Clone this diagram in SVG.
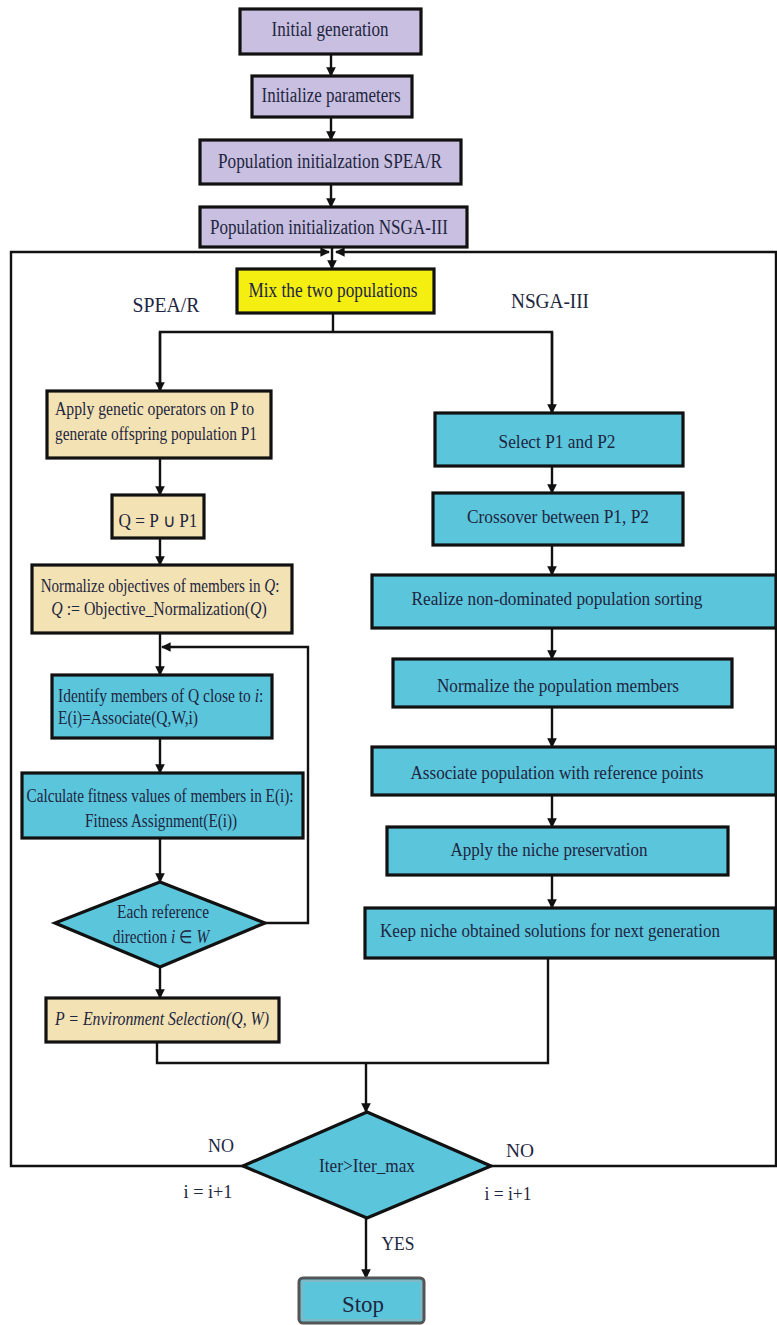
<svg xmlns="http://www.w3.org/2000/svg" width="777" height="1325" viewBox="0 0 777 1325">
<defs>
<marker id="ah" viewBox="0 0 10 10" refX="9" refY="5" markerWidth="4" markerHeight="4" orient="auto" markerUnits="strokeWidth">
<path d="M0,0 L10,5 L0,10 z" fill="#111"/>
</marker>
<style>
.b{stroke:#111;stroke-width:3.2}
.pu{fill:#c9bfe0}
.ye{fill:#f4ef10}
.ta{fill:#f3e2b3}
.cy{fill:#5bc5dc}
.c{fill:none;stroke:#111;stroke-width:2.4}
.a{marker-end:url(#ah)}
text{font-family:"Liberation Serif","Times New Roman",serif;fill:#1e2640;font-size:18px}
.m{text-anchor:middle}
.big{font-size:20px}
.it{font-style:italic}
</style>
</defs>
<rect width="777" height="1325" fill="#fff"/>
<g id="connectors">
<line class="c a" x1="331" y1="54" x2="331" y2="76"/>
<line class="c a" x1="331" y1="117" x2="331" y2="140"/>
<line class="c a" x1="331" y1="184" x2="331" y2="207"/>
<line class="c a" x1="332" y1="247" x2="332" y2="269"/>
<polyline class="c a" points="243,1166 11,1166 11,252 329,252"/>
<polyline class="c a" points="491,1166 776,1166 776,252 336,252"/>
<polyline class="c" points="160,391 160,332 552,332 552,413"/>
<line class="c" x1="333" y1="313" x2="333" y2="332"/>
<line class="c a" x1="160" y1="332" x2="160" y2="391"/>
<line class="c a" x1="552" y1="332" x2="552" y2="413"/>
<line class="c a" x1="160" y1="458" x2="160" y2="495"/>
<line class="c a" x1="160" y1="538" x2="160" y2="565"/>
<line class="c a" x1="160" y1="633" x2="160" y2="675"/>
<polyline class="c a" points="265,923 308,923 308,647 162,647"/>
<line class="c a" x1="160" y1="738" x2="160" y2="773"/>
<line class="c a" x1="160" y1="838" x2="160" y2="882"/>
<line class="c a" x1="160" y1="967" x2="160" y2="998"/>
<polyline class="c" points="157,1042 157,1063 548,1063 548,958"/>
<line class="c a" x1="366" y1="1063" x2="366" y2="1112"/>
<line class="c a" x1="366" y1="1218" x2="366" y2="1278"/>
<line class="c a" x1="552" y1="466" x2="552" y2="493"/>
<line class="c a" x1="552" y1="545" x2="552" y2="575"/>
<line class="c a" x1="552" y1="628" x2="552" y2="659"/>
<line class="c a" x1="552" y1="707" x2="552" y2="747"/>
<line class="c a" x1="552" y1="795" x2="552" y2="827"/>
<line class="c a" x1="552" y1="875" x2="552" y2="908"/>
</g>
<g id="n_init">
<rect class="b pu" x="240" y="9" width="181" height="45"/>
<text class="m big" x="330" y="36" textLength="117" lengthAdjust="spacingAndGlyphs">Initial generation</text>
</g>
<g id="n_params">
<rect class="b pu" x="252" y="76" width="160" height="41"/>
<text class="m big" x="331" y="102" textLength="139" lengthAdjust="spacingAndGlyphs">Initialize parameters</text>
</g>
<g id="n_spea_init">
<rect class="b pu" x="200" y="140" width="261" height="44"/>
<text class="m big" x="330" y="168" textLength="224" lengthAdjust="spacingAndGlyphs">Population initialzation SPEA/R</text>
</g>
<g id="n_nsga_init">
<rect class="b pu" x="200" y="207" width="267" height="40"/>
<text class="m big" x="329" y="234" textLength="238" lengthAdjust="spacingAndGlyphs">Population initialization NSGA-III</text>
</g>
<g id="n_mix">
<rect class="b ye" x="237" y="269" width="197" height="44"/>
<text class="m big" x="333" y="297" textLength="169" lengthAdjust="spacingAndGlyphs">Mix the two populations</text>
</g>
<g id="labels">
<text class="m big" x="166" y="312" textLength="67" lengthAdjust="spacingAndGlyphs">SPEA/R</text>
<text class="m big" x="550" y="308" textLength="78" lengthAdjust="spacingAndGlyphs">NSGA-III</text>
</g>
<g id="n_apply">
<rect class="b ta" x="47" y="391" width="224" height="67"/>
<text x="55" y="415" textLength="199" lengthAdjust="spacingAndGlyphs">Apply genetic operators on P to</text>
<text x="55" y="440" textLength="202" lengthAdjust="spacingAndGlyphs">generate offspring population P1</text>
</g>
<g id="n_q">
<rect class="b ta" x="112" y="495" width="92" height="43"/>
<text class="m" x="158" y="527" textLength="79" lengthAdjust="spacingAndGlyphs">Q = P ∪ P1</text>
</g>
<g id="n_norm">
<rect class="b ta" x="32" y="565" width="260" height="68"/>
<text class="m" transform="translate(160 592) scale(0.84 1)" x="0" y="0">Normalize objectives of members in <tspan class="it">Q</tspan>:</text>
<text class="m" transform="translate(159 615) scale(0.88 1)" x="0" y="0"><tspan class="it">Q</tspan> := Objective_Normalization(<tspan class="it">Q</tspan>)</text>
</g>
<g id="n_identify">
<rect class="b cy" x="52" y="675" width="220" height="63"/>
<text transform="translate(58 702) scale(0.86 1)" x="0" y="0">Identify members of Q close to <tspan class="it">i</tspan>:</text>
<text x="58" y="724" textLength="140" lengthAdjust="spacingAndGlyphs">E(i)=Associate(Q,W,i)</text>
</g>
<g id="n_calc">
<rect class="b cy" x="22" y="773" width="281" height="65"/>
<text class="m" x="160" y="802" textLength="267" lengthAdjust="spacingAndGlyphs">Calculate fitness values of members in E(i):</text>
<text class="m" x="161" y="827" textLength="152" lengthAdjust="spacingAndGlyphs">Fitness Assignment(E(i))</text>
</g>
<g id="n_each">
<polygon class="b cy" points="160,882 265,923 160,967 55,923"/>
<text class="m" x="163" y="918" textLength="92" lengthAdjust="spacingAndGlyphs">Each reference</text>
<text class="m" transform="translate(161 943) scale(0.85 1)" x="0" y="0">direction <tspan class="it">i</tspan> ∈ <tspan class="it">W</tspan></text>
</g>
<g id="n_envsel">
<rect class="b ta" x="46" y="998" width="233" height="44"/>
<text class="m it" x="162" y="1025" textLength="214" lengthAdjust="spacingAndGlyphs">P = Environment Selection(Q, W)</text>
</g>
<g id="n_select">
<rect class="b cy" x="435" y="413" width="248" height="53"/>
<text class="m" x="557" y="448" textLength="117" lengthAdjust="spacingAndGlyphs">Select P1 and P2</text>
</g>
<g id="n_cross">
<rect class="b cy" x="433" y="493" width="250" height="52"/>
<text class="m" x="558" y="523" textLength="182" lengthAdjust="spacingAndGlyphs">Crossover between P1, P2</text>
</g>
<g id="n_realize">
<rect class="b cy" x="372" y="575" width="404" height="53"/>
<text class="m" x="557" y="605" textLength="291" lengthAdjust="spacingAndGlyphs">Realize non-dominated population sorting</text>
</g>
<g id="n_normpop">
<rect class="b cy" x="393" y="659" width="339" height="48"/>
<text class="m" x="558" y="692" textLength="242" lengthAdjust="spacingAndGlyphs">Normalize the population members</text>
</g>
<g id="n_assoc">
<rect class="b cy" x="372" y="747" width="404" height="48"/>
<text class="m" x="557" y="779" textLength="293" lengthAdjust="spacingAndGlyphs">Associate population with reference points</text>
</g>
<g id="n_niche">
<rect class="b cy" x="387" y="827" width="341" height="48"/>
<text class="m" x="549" y="856" textLength="197" lengthAdjust="spacingAndGlyphs">Apply the niche preservation</text>
</g>
<g id="n_keep">
<rect class="b cy" x="365" y="908" width="410" height="50"/>
<text class="m" x="550" y="937" textLength="340" lengthAdjust="spacingAndGlyphs">Keep niche obtained solutions for next generation</text>
</g>
<g id="n_iter">
<polygon class="b cy" points="367,1112 491,1166 367,1218 243,1166"/>
<text class="m" x="367" y="1172" textLength="96" lengthAdjust="spacingAndGlyphs">Iter&gt;Iter_max</text>
</g>
<g id="edge_labels">
<text class="m" x="221" y="1152" textLength="26" lengthAdjust="spacingAndGlyphs">NO</text>
<text class="m" x="208" y="1198" textLength="49" lengthAdjust="spacingAndGlyphs">i = i+1</text>
<text class="m" x="520" y="1157" textLength="28" lengthAdjust="spacingAndGlyphs">NO</text>
<text class="m" x="508" y="1200" textLength="47" lengthAdjust="spacingAndGlyphs">i = i+1</text>
<text class="m" x="398" y="1250" textLength="33" lengthAdjust="spacingAndGlyphs">YES</text>
</g>
<g id="n_stop">
<rect x="299" y="1278" width="125" height="45" rx="4" fill="#5bc5dc" stroke="#555" stroke-width="3"/>
<rect x="302" y="1281" width="119" height="39" rx="2" fill="none" stroke="#aaa" stroke-width="1"/>
<text class="m" x="363" y="1312" style="font-size:23px" textLength="42" lengthAdjust="spacingAndGlyphs">Stop</text>
</g>
</svg>
